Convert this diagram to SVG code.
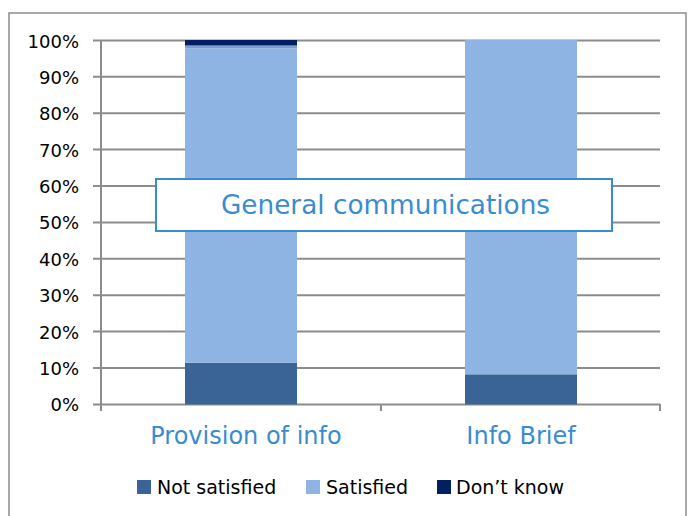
<svg xmlns="http://www.w3.org/2000/svg" width="692" height="516" viewBox="0 0 692 516">
<style>
.grid{stroke:#8c8c8c;stroke-width:2;fill:none}
.ylab{font-family:"DejaVu Sans",sans-serif;font-size:18px;fill:#000;text-anchor:end}
.cat{font-family:"DejaVu Sans",sans-serif;font-size:24px;fill:#3a8cd0;text-anchor:middle}
.leg{font-family:"DejaVu Sans",sans-serif;font-size:19px;fill:#000}
.ns{fill:#3b6496}.sat{fill:#8eb4e3}.dk{fill:#002060}
</style>
<rect x="0" y="0" width="692" height="516" fill="#fff"/>
<rect x="9" y="13" width="677" height="520" fill="#fff" stroke="#8c8c8c" stroke-width="1.5"/>
<g id="gridlines">
<path class="grid" d="M93 40.5H660M93 76.8H660M93 113.2H660M93 149.6H660M93 186H660M93 222.4H660M93 258.8H660M93 295.2H660M93 331.6H660M93 368H660M93 404.4H660"/>
<path class="grid" d="M101 40V411M381 404V411M660 404V411"/>
</g>
<g id="yaxis-labels">
<text class="ylab" x="79" y="47.5">100%</text>
<text class="ylab" x="79" y="83.8">90%</text>
<text class="ylab" x="79" y="120.2">80%</text>
<text class="ylab" x="79" y="156.6">70%</text>
<text class="ylab" x="79" y="193">60%</text>
<text class="ylab" x="79" y="229.4">50%</text>
<text class="ylab" x="79" y="265.8">40%</text>
<text class="ylab" x="79" y="302.2">30%</text>
<text class="ylab" x="79" y="338.6">20%</text>
<text class="ylab" x="79" y="375">10%</text>
<text class="ylab" x="79" y="411.4">0%</text>
</g>
<g id="bar-provision">
<rect class="ns" x="185" y="362.7" width="112" height="41.7"/>
<rect class="sat" x="185" y="48.5" width="112" height="314.2"/>
<rect x="185" y="45.5" width="112" height="3" fill="#7f9dcf"/>
<rect class="dk" x="185" y="40" width="112" height="5.5"/>
</g>
<g id="bar-infobrief">
<rect class="ns" x="465" y="374.3" width="112" height="30.1"/>
<rect class="sat" x="465" y="40" width="112" height="334.3"/>
</g>
<g id="title">
<rect x="156" y="179" width="456" height="52" fill="#fff" stroke="#3a8cd0" stroke-width="2"/>
<text x="385.5" y="214" font-family="DejaVu Sans, sans-serif" font-size="26.3" fill="#3a8cd0" text-anchor="middle">General communications</text>
</g>
<g id="categories">
<text class="cat" x="246" y="444">Provision of info</text>
<text class="cat" x="521" y="444">Info Brief</text>
</g>
<g id="legend">
<rect class="ns" x="137" y="480" width="14" height="14"/>
<text class="leg" x="157" y="494">Not satisfied</text>
<rect class="sat" x="306" y="480" width="14" height="14"/>
<text class="leg" x="326" y="494">Satisfied</text>
<rect class="dk" x="437" y="480" width="14" height="14"/>
<text class="leg" x="456" y="494">Don’t know</text>
</g>
</svg>
